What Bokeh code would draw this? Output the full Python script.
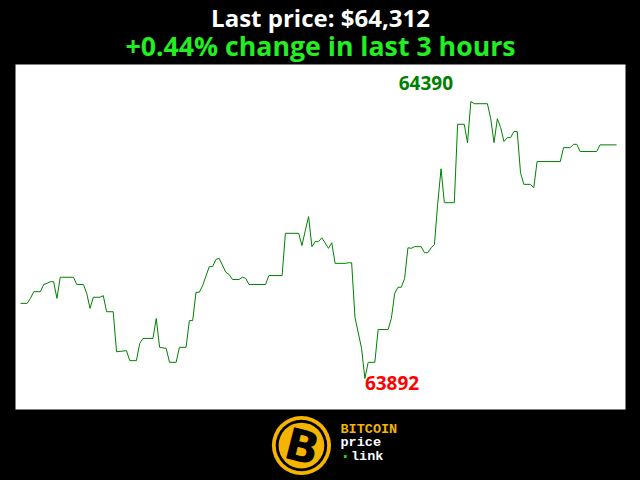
from bokeh.plotting import figure
from bokeh.layouts import column
from bokeh.models import ColumnDataSource, Range1d
from bokeh.core.properties import value
from bokeh.embed import file_html
from bokeh.resources import INLINE

# ---- data (minutes since start of the 3-hour window, BTC price in USD) ----
minutes = [0, 2, 3, 4, 6, 7, 8, 9, 10, 11, 12, 16, 17, 19, 20, 21, 22, 24, 25, 26,
           28, 29, 32, 33, 35, 36, 37, 40, 41, 42, 44, 45, 47, 48, 50, 51, 52, 53, 54, 55,
           57, 58, 59, 60, 62, 63, 64, 66, 67, 68, 69, 74, 75, 79, 80, 84, 85, 86, 87, 88,
           89, 90, 91, 93, 94, 95, 98, 99, 100, 101, 103, 104, 105, 107, 108, 111, 112, 113, 114, 115,
           116, 117, 118, 119, 121, 122, 123, 124, 125, 126, 127, 128, 131, 132, 134, 135, 136, 137, 141, 142,
           143, 144, 145, 146, 147, 148, 149, 150, 151, 152, 154, 155, 156, 163, 164, 166, 167, 168, 169, 174,
           175, 180]
prices = [64027, 64027, 64036, 64048, 64048, 64061, 64063, 64066, 64066, 64036, 64074, 64074, 64061, 64061, 64045, 64018, 64038, 64038, 64041, 64012,
          64012, 63940, 63942, 63924, 63924, 63955, 63964, 63964, 64000, 63948, 63946, 63921, 63921, 63948, 63948, 63996, 63996, 64047, 64047, 64059,
          64093, 64093, 64106, 64108, 64083, 64079, 64070, 64070, 64074, 64072, 64061, 64061, 64077, 64077, 64153, 64153, 64131, 64158, 64183, 64129,
          64138, 64138, 64145, 64126, 64136, 64099, 64099, 64100, 64100, 64002, 63946, 63892, 63921, 63921, 63980, 63980, 64000, 64045, 64056, 64056,
          64072, 64127, 64126, 64129, 64129, 64118, 64118, 64127, 64133, 64207, 64269, 64208, 64208, 64349, 64349, 64316, 64390, 64386, 64386, 64359,
          64316, 64359, 64343, 64318, 64325, 64325, 64336, 64336, 64262, 64241, 64241, 64235, 64282, 64282, 64307, 64307, 64313, 64313, 64300, 64300,
          64312, 64312]
last_price = 64312
change_pct = 0.44
window_hours = 3

title_line1 = f"Last price: ${last_price:,}"
title_line2 = f"+{change_pct:.2f}% change in last {window_hours} hours"

hi = max(prices)
lo = min(prices)
hi_t = minutes[prices.index(hi)]
lo_t = minutes[prices.index(lo)]

W = 640
FONT = "Open Sans"

# ---- header ----
HH = 64
head = figure(width=W, height=HH, x_range=Range1d(0, W), y_range=Range1d(0, HH),
              x_axis_type=None, y_axis_type=None, toolbar_location=None,
              output_backend="svg", min_border=0, outline_line_color=None,
              background_fill_color="black", border_fill_color="black")
head.grid.visible = False
head.text(x=[W / 2], y=[HH - 17], text=[title_line1], text_align="center",
          text_baseline="alphabetic", text_color="white",
          text_font=value(FONT), text_font_style="bold", text_font_size="24px")
head.text(x=[W / 2], y=[HH - 45], text=[title_line2], text_align="center",
          text_baseline="alphabetic", text_color="#22ee22",
          text_font=value(FONT), text_font_style="bold", text_font_size="26.7px")

# ---- main chart ----
src = ColumnDataSource(dict(t=minutes, price=prices))
p = figure(width=W, height=346, x_range=Range1d(-1.51, 182.7),
           y_range=Range1d(63836.2, 64456.5),
           x_axis_type=None, y_axis_type=None, toolbar_location=None,
           output_backend="svg", min_border_left=15, min_border_right=15,
           min_border_top=0, min_border_bottom=1, outline_line_color=None,
           background_fill_color="white", border_fill_color="black")
p.grid.visible = False
p.line("t", "price", source=src, line_color="#008000", line_width=1)
p.text(x=[hi_t], y=[hi], text=[str(hi)], text_align="center", text_baseline="middle",
       x_offset=-45, y_offset=-18, text_color="#008000",
       text_font=value(FONT), text_font_style="bold", text_font_size="19px")
p.text(x=[lo_t], y=[lo], text=[str(lo)], text_align="left", text_baseline="middle",
       x_offset=0, y_offset=5, text_color="#ff0000",
       text_font=value(FONT), text_font_style="bold", text_font_size="19px")

# ---- logo ----
gold = "#f5b400"
LH = 70
logo = figure(width=W, height=LH, x_range=Range1d(0, W), y_range=Range1d(0, LH),
              x_axis_type=None, y_axis_type=None, toolbar_location=None,
              output_backend="svg", min_border=0, outline_line_color=None,
              background_fill_color="black", border_fill_color="black")
logo.grid.visible = False
cx, cy = 300, LH - 35
logo.circle(x=[cx], y=[cy], radius=31, fill_color=gold, line_color=None)
logo.circle(x=[cx], y=[cy], radius=27, fill_color="black", line_color=None)
logo.circle(x=[cx], y=[cy], radius=24, fill_color=gold, line_color=None)
logo.text(x=[cx + 1], y=[cy - 1], text=["B"], text_align="center", text_baseline="middle",
          angle=-0.25, text_color="black", text_font=value("DejaVu Sans"),
          text_font_style="bold", text_font_size="44px")
logo.text(x=[341], y=[LH - 19], text=["BITCOIN"], text_align="left", text_baseline="middle",
          text_color=gold, text_font=value("Liberation Mono"), text_font_style="bold",
          text_font_size="13.5px")
logo.text(x=[341], y=[LH - 32], text=["price"], text_align="left", text_baseline="middle",
          text_color="white", text_font=value("Liberation Mono"), text_font_style="bold",
          text_font_size="13.5px")
logo.rect(x=[346], y=[LH - 46], width=3, height=3, fill_color="#22cc22", line_color=None)
logo.text(x=[352], y=[LH - 46], text=["link"], text_align="left", text_baseline="middle",
          text_color="white", text_font=value("Liberation Mono"), text_font_style="bold",
          text_font_size="13.5px")

layout = column(head, p, logo, spacing=0)
html = file_html(layout, INLINE)
html = html.replace("</head>",
                    "<style>html, body { background-color: #000000 !important; }</style></head>", 1)
open("out.html", "w").write(html)
